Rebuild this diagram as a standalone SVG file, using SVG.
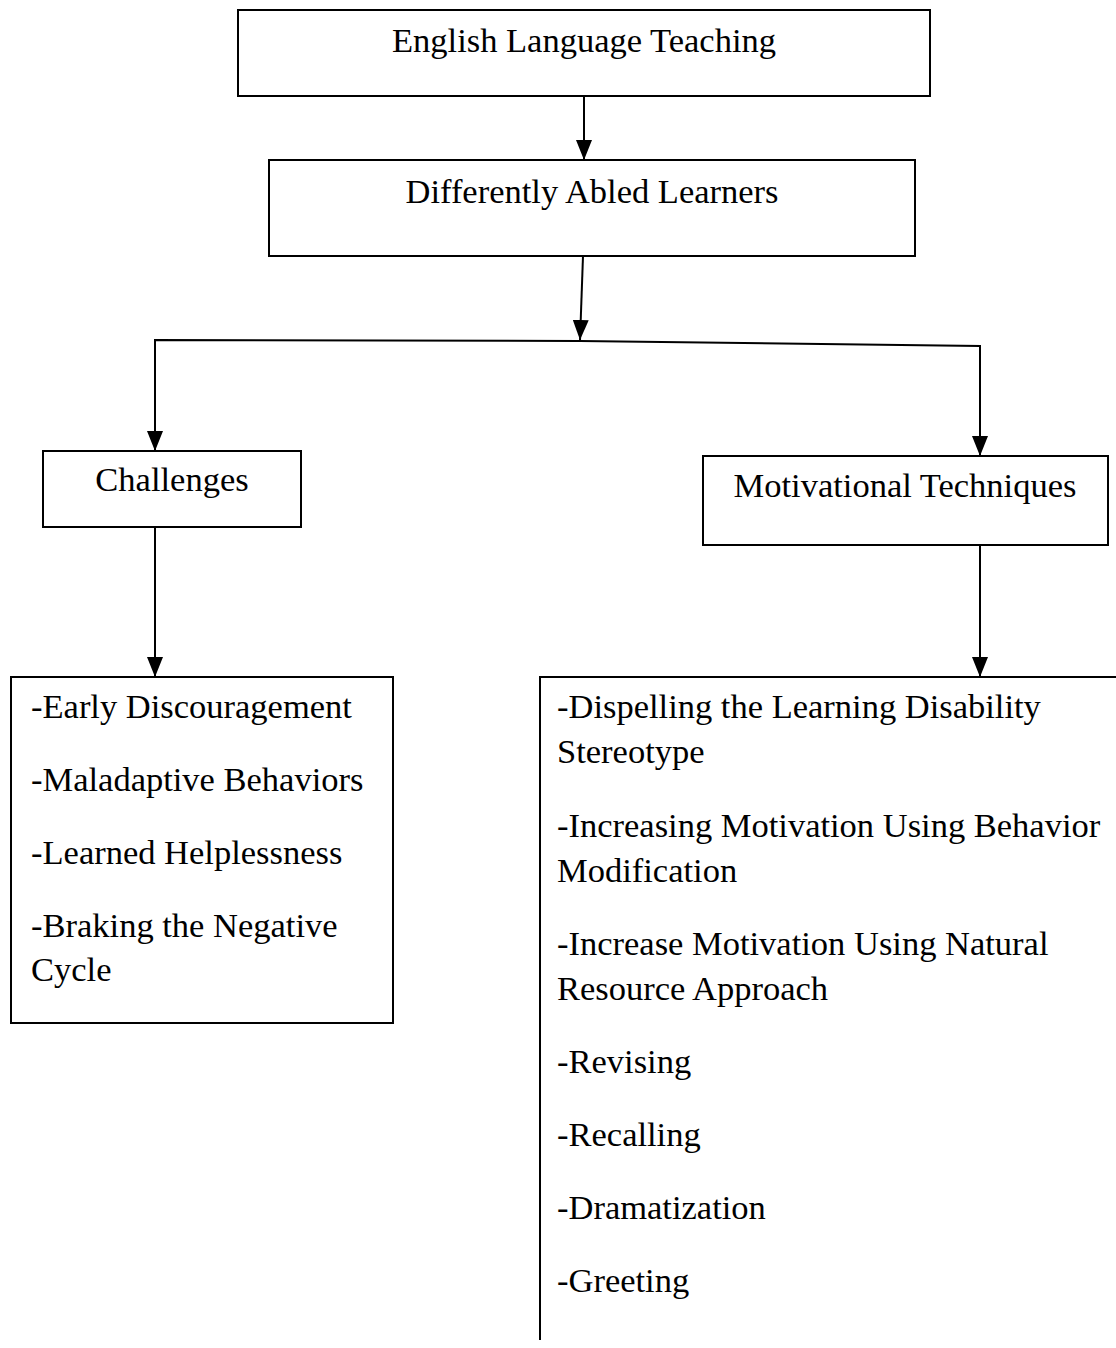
<svg xmlns="http://www.w3.org/2000/svg" width="1116" height="1348" viewBox="0 0 1116 1348">
<defs>
<marker id="arr" markerUnits="userSpaceOnUse" markerWidth="20" markerHeight="16" refX="20" refY="8" viewBox="0 0 20 16" orient="auto">
<path d="M0,0 L20,8 L0,16 Z" fill="#000"/>
</marker>
<style>
.box{fill:#fff;stroke:#000;stroke-width:2}
.t{font-family:"Liberation Serif","Times New Roman",serif;font-size:34.5px;fill:#000}
.c{text-anchor:middle}
.ln{fill:none;stroke:#000;stroke-width:2}
</style>
</defs>
<rect width="1116" height="1348" fill="#fff"/>
<g id="connectors">
<path class="ln" d="M584,96 V160" marker-end="url(#arr)"/>
<path class="ln" d="M583,256 L580,340" marker-end="url(#arr)"/>
<path class="ln" d="M580,341 L155,340 V451" marker-end="url(#arr)"/>
<path class="ln" d="M580,341 L980,346 V456" marker-end="url(#arr)"/>
<path class="ln" d="M155,527 V677" marker-end="url(#arr)"/>
<path class="ln" d="M980,545 V677" marker-end="url(#arr)"/>
</g>
<g id="n1">
<rect class="box" x="238" y="10" width="692" height="86"/>
<text class="t c" x="584" y="52">English Language Teaching</text>
</g>
<g id="n2">
<rect class="box" x="269" y="160" width="646" height="96"/>
<text class="t c" x="592" y="203">Differently Abled Learners</text>
</g>
<g id="n3">
<rect class="box" x="43" y="451" width="258" height="76"/>
<text class="t c" x="172" y="491">Challenges</text>
</g>
<g id="n4">
<rect class="box" x="703" y="456" width="405" height="89"/>
<text class="t c" x="905" y="497">Motivational Techniques</text>
</g>
<g id="n5">
<rect class="box" x="11" y="677" width="382" height="346"/>
<text class="t" x="31" y="718">-Early Discouragement</text>
<text class="t" x="31" y="791">-Maladaptive Behaviors</text>
<text class="t" x="31" y="864">-Learned Helplessness</text>
<text class="t" x="31" y="937">-Braking the Negative</text>
<text class="t" x="31" y="981">Cycle</text>
</g>
<g id="n6">
<path class="ln" d="M1117,677 H540 V1340"/>
<text class="t" x="557" y="718">-Dispelling the Learning Disability</text>
<text class="t" x="557" y="763">Stereotype</text>
<text class="t" x="557" y="837">-Increasing Motivation Using Behavior</text>
<text class="t" x="557" y="882">Modification</text>
<text class="t" x="557" y="955">-Increase Motivation Using Natural</text>
<text class="t" x="557" y="1000">Resource Approach</text>
<text class="t" x="557" y="1073">-Revising</text>
<text class="t" x="557" y="1146">-Recalling</text>
<text class="t" x="557" y="1219">-Dramatization</text>
<text class="t" x="557" y="1292">-Greeting</text>
</g>
</svg>
